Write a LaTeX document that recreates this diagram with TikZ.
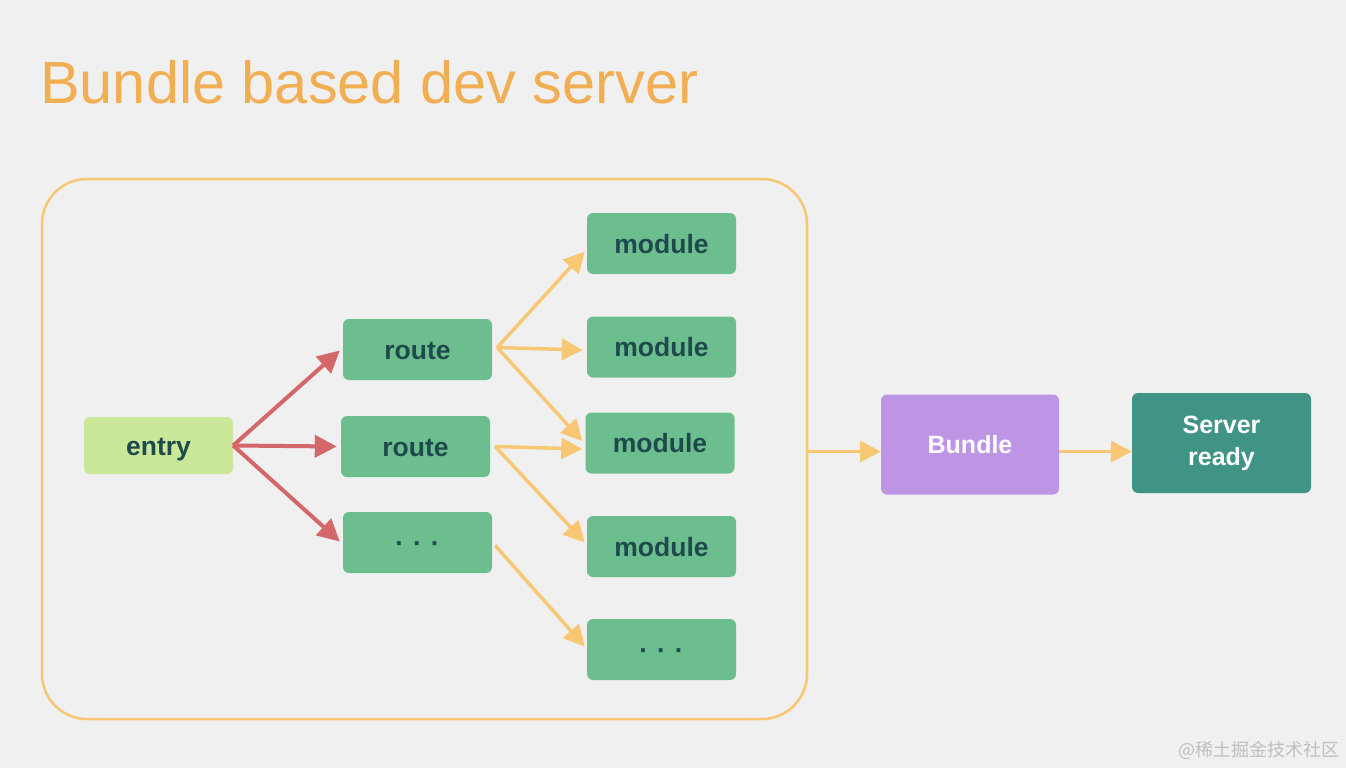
\documentclass[tikz,border=0pt]{standalone}
\usepackage{fontspec}
\setmainfont{Liberation Sans}
\newfontfamily\cjkfont{Noto Sans CJK SC}
\usetikzlibrary{arrows.meta}
\definecolor{bggray}{HTML}{F0F0F0}
\definecolor{titleorange}{HTML}{F2AE53}
\definecolor{lineorange}{HTML}{F7C774}
\definecolor{arrowred}{HTML}{D4676A}
\definecolor{entrygreen}{HTML}{CBE799}
\definecolor{boxgreen}{HTML}{6DBE8F}
\definecolor{darkteal}{HTML}{1E4A4D}
\definecolor{bundlepurple}{HTML}{BE94E5}
\definecolor{serverteal}{HTML}{409486}
\begin{document}
\begin{tikzpicture}[x=1pt, y=-1pt,
    every node/.style={inner sep=0pt},
    box/.style={rounded corners=6pt, minimum width=149pt, minimum height=61pt,
      text height=19pt, text depth=0pt,
      fill=boxgreen, text=darkteal, font=\fontsize{26.5}{28}\selectfont\bfseries},
    bigbox/.style={rounded corners=6pt, minimum width=178pt, minimum height=100pt,
      text=white, align=center, font=\fontsize{25}{32}\selectfont\bfseries},
    redarrow/.style={-{Triangle[length=22pt,width=22pt]}, line width=4pt, arrowred},
    yelarrow/.style={-{Triangle[length=21pt,width=21pt]}, line width=3.5pt, lineorange}]
    % background and page size
    \fill[bggray] (0,0) rectangle (1346,768);
    \useasboundingbox (0,0) rectangle (1346,768);

    \node[anchor=base west, text=titleorange, font=\fontsize{59.5}{66}\selectfont] (title) at (40,103) {Bundle based dev server};

    \node[draw=lineorange, line width=2.5pt, rounded corners=45pt,
      minimum width=765pt, minimum height=540pt] (server) at (424.5,449) {};

    \node[box, fill=entrygreen, minimum height=57pt] (entry) at (158.5,445.5) {entry};

    \node[box] (route1) at (417.5,349.5) {route};
    \node[box] (route2) at (415.5,446.5) {route};
    \node[box] (route3) at (417.5,542.5) {·\hspace{9pt}·\hspace{9pt}·};

    \node[box] (module1) at (661.5,243.5) {module};
    \node[box] (module2) at (661.5,347) {module};
    \node[box] (module3) at (660,443) {module};
    \node[box] (module4) at (661.5,546.5) {module};
    \node[box] (module5) at (661.5,649.5) {·\hspace{9pt}·\hspace{9pt}·};

    \node[bigbox, fill=bundlepurple] (bundle) at (970,444.5) {Bundle};
    \node[bigbox, fill=serverteal, minimum width=179pt] (ready) at (1221.5,443) {Server\\ready};

    % entry -> routes
    \draw[redarrow] (entry.east) -- ([xshift=-3pt, yshift=-1pt]route1.west);
    \draw[redarrow] (entry.east) -- ([xshift=-4pt]route2.west);
    \draw[redarrow] (entry.east) -- ([xshift=-3pt, yshift=1pt]route3.west);

    % routes -> modules
    \draw[yelarrow] ([xshift=5pt, yshift=2pt]route1.east) -- ([xshift=-2pt, yshift=-8pt]module1.west);
    \draw[yelarrow] ([xshift=5pt, yshift=2pt]route1.east) -- ([xshift=-4pt, yshift=-3pt]module2.west);
    \draw[yelarrow] ([xshift=5pt, yshift=2pt]route1.east) -- ([xshift=-3pt, yshift=2pt]module3.west);
    \draw[yelarrow] ([xshift=5pt]route2.east) -- ([xshift=-3pt, yshift=-6pt]module3.west);
    \draw[yelarrow] ([xshift=5pt]route2.east) -- ([xshift=-2pt, yshift=4pt]module4.west);
    \draw[yelarrow] ([xshift=3pt, yshift=-3pt]route3.east) -- ([xshift=-2pt, yshift=3pt]module5.west);

    % server -> bundle -> ready
    \draw[yelarrow] ([yshift=-7pt]server.east |- bundle.west) -- ([yshift=-7pt]bundle.west);
    \draw[yelarrow] ([yshift=-7pt]bundle.east) -- ([yshift=-7pt]bundle.east -| ready.west);

    \node[anchor=east, text=black!25, font=\cjkfont\fontsize{18}{20}\selectfont] (mark) at (1340,750) {@稀土掘金技术社区};
\end{tikzpicture}
\end{document}
